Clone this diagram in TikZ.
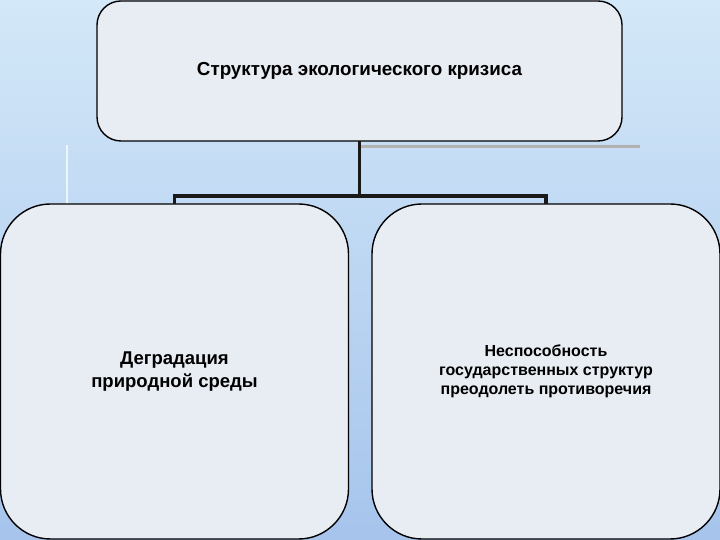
\documentclass[tikz,border=0pt]{standalone}
\usepackage{fontspec}
\setmainfont{Liberation Sans}
\usetikzlibrary{positioning}

\definecolor{bgtop}{HTML}{D3E8F8}
\definecolor{bgbot}{HTML}{A6C4EC}
\definecolor{boxfill}{HTML}{E8ECF3}

\begin{document}
\begin{tikzpicture}[x=1pt, y=1pt,
  box/.style={draw, line width=1.4pt, fill=boxfill, align=center, font=\bfseries, inner sep=0pt, outer sep=0pt},
  topbox/.style={box, rounded corners=24pt, minimum width=525pt, minimum height=140pt, font=\bfseries\fontsize{18.8}{22}\selectfont},
  bigbox/.style={box, rounded corners=50pt, minimum width=348pt, minimum height=335pt},
  conn/.style={line width=3.6pt, color=black!90}
]
  \useasboundingbox (0,0) rectangle (720,540);
  \shade[top color=bgtop, bottom color=bgbot] (0,0) rectangle (720,540);
  % shadow under the top box
  \draw[line width=3pt, gray!60] (360,393) -- (640,393);
  \draw[line width=2pt, white!60!bgtop] (67,335) -- (67,395);

  \node[topbox] (crisis) at (359.5,469) {Структура экологического кризиса};
  \node[bigbox, font=\bfseries\fontsize{18.5}{23}\selectfont] (degr) at (174.5,168.5) {Деградация\\природной среды};
  \node[bigbox, font=\bfseries\fontsize{16}{19}\selectfont] (inab) at (546,168.5) {Неспособность\\государственных структур\\преодолеть противоречия};

  \draw[conn] (crisis.south) -- ++(0,-55) coordinate (fork);
  \draw[conn] (fork) -| (degr.north);
  \draw[conn] (fork) -| (inab.north);
\end{tikzpicture}
\end{document}
